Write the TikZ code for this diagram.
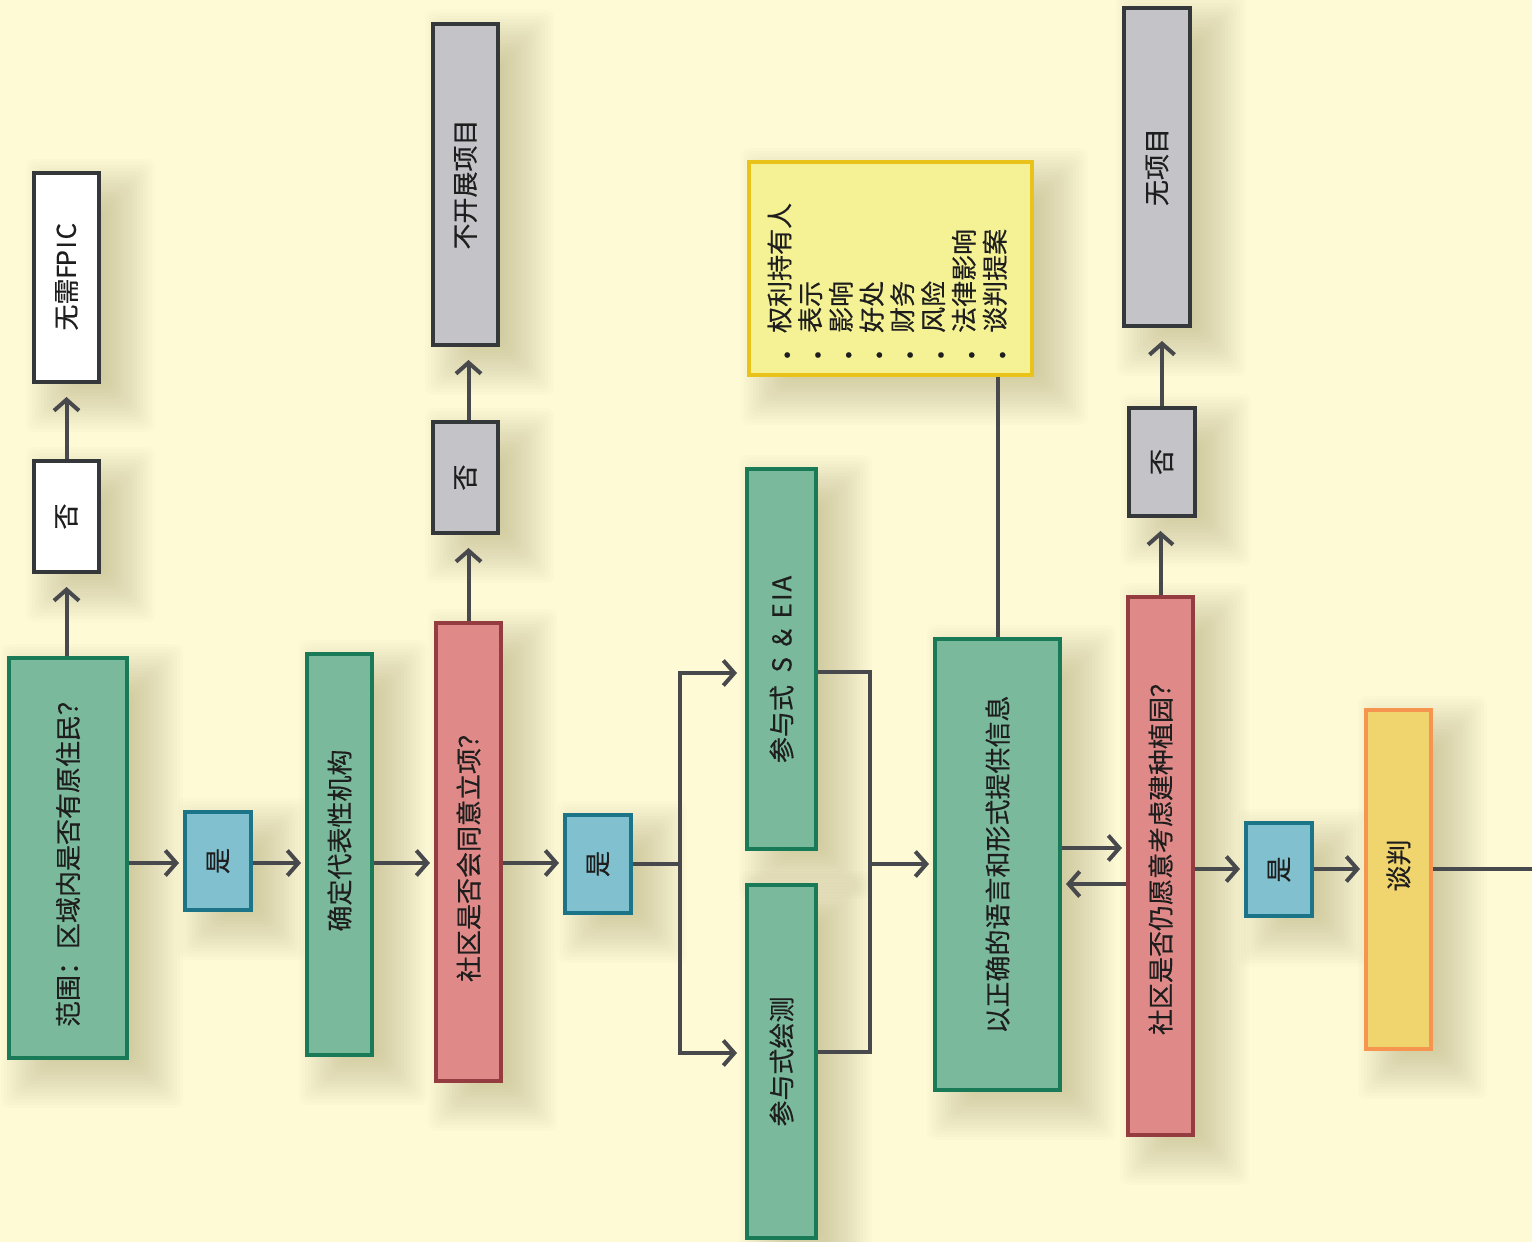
\documentclass[tikz,border=0pt]{standalone}
\usepackage{fontspec}
\usepackage{graphicx}
\setmainfont{Noto Sans CJK SC}[FakeBold=0.3]
\usetikzlibrary{arrows.meta,backgrounds,calc}
\definecolor{bgc}{RGB}{254,250,214}
\definecolor{gfill}{RGB}{122,185,155}
\definecolor{gline}{RGB}{24,122,86}
\definecolor{bfill}{RGB}{128,192,207}
\definecolor{bline}{RGB}{27,116,136}
\definecolor{rfill}{RGB}{223,138,136}
\definecolor{rline}{RGB}{148,60,64}
\definecolor{kfill}{RGB}{195,195,200}
\definecolor{kline}{RGB}{53,56,59}
\definecolor{nfill}{RGB}{245,242,149}
\definecolor{nline}{RGB}{233,194,26}
\definecolor{ofill}{RGB}{240,212,110}
\definecolor{oline}{RGB}{246,149,79}
\definecolor{linec}{RGB}{72,73,77}
\definecolor{txt}{RGB}{30,30,30}
\definecolor{shc}{RGB}{60,50,0}
\newcommand{\hw}[1]{\makebox[0.52em]{#1}}
\newcommand{\rt}[1]{\rotatebox{90}{#1}}
\newcommand{\nd}{\makebox[1.2em][l]{\makebox[0.7em]{\raisebox{-0.3em}{·}}}}
\newcommand{\softshadow}[1]{%
  \foreach \E in {30,27,...,-21}{%
    \fill[shc, opacity=0.012, rounded corners=8pt]
      ([shift={(24-\E,18-\E)}]#1.north west) rectangle ([shift={(24+\E,18+\E)}]#1.south east);
  }}
\begin{document}
\begin{tikzpicture}[x=1pt,y=-1pt,
  font=\fontsize{26pt}{29.5pt}\selectfont,
  box/.style={rectangle, line width=4pt, inner sep=0pt, text=txt},
  greenbox/.style={box, fill=gfill, draw=gline},
  bluebox/.style={box, fill=bfill, draw=bline},
  redbox/.style={box, fill=rfill, draw=rline},
  graybox/.style={box, fill=kfill, draw=kline},
  whitebox/.style={box, fill=white, draw=kline},
  notebox/.style={box, fill=nfill, draw=nline},
  negbox/.style={box, fill=ofill, draw=oline},
  ln/.style={draw=linec, line width=4pt},
  harr/.style={ln, -{Straight Barb[length=11pt,width=25pt]}, shorten >=4pt},
  varr/.style={ln, -{Straight Barb[length=11pt,width=25pt]}, shorten >=13pt}]
\begin{pgfonlayer}{background}
\fill[bgc] (0,0) rectangle (1532,1242);
\end{pgfonlayer}
\useasboundingbox (0,0) rectangle (1532,1242);

% nodes
\node[greenbox, minimum width=118pt, minimum height=400pt] (scope) at (68,858) {\rt{范围：区域内是否有原住民？}};
\node[whitebox, minimum width=65pt, minimum height=111pt] (no1) at (66.5,516.5) {\rt{否}};
\node[whitebox, minimum width=65pt, minimum height=209pt] (nofpic) at (66.5,277.5) {\rt{无需\hw{F}\hw{P}\hw{I}\hw{C}}};
\node[bluebox, minimum width=66pt, minimum height=98pt] (yes1) at (218,861) {\rt{是}};
\node[greenbox, minimum width=65pt, minimum height=401pt] (rep) at (339.5,854.5) {\rt{\hspace{28pt}确定代表性机构}};
\node[redbox, minimum width=65pt, minimum height=458pt] (agree) at (468.5,852) {\rt{社区是否会同意立项？}};
\node[graybox, minimum width=65pt, minimum height=111pt] (no2) at (465.5,477.5) {\rt{否}};
\node[graybox, minimum width=65pt, minimum height=321pt] (noproj1) at (465.5,184.5) {\rt{不开展项目}};
\node[bluebox, minimum width=66pt, minimum height=98pt] (yes2) at (598,864) {\rt{是}};
\node[greenbox, minimum width=69pt, minimum height=380pt] (sia) at (781.5,659) {\rt{参与式\hw{}\hw{S}\hw{}\hw{\&}\hw{}\hw{E}\hw{I}\hw{A}\hspace{22pt}}};
\node[greenbox, minimum width=69pt, minimum height=353pt] (map) at (781.5,1061.5) {\rt{参与式绘测}};
\node[notebox, minimum width=283pt, minimum height=213pt] (notes) at (890.5,268.5) {\rt{\begin{tabular}{@{}l@{\hspace{30pt}}}
\nd 权利持有人\\
\nd 表示\\
\nd 影响\\
\nd 好处\\
\nd 财务\\
\nd 风险\\
\nd 法律影响\\
\nd 谈判提案
\end{tabular}}};
\node[greenbox, minimum width=125pt, minimum height=451pt] (info) at (997.5,864.5) {\rt{以正确的语言和形式提供信息}};
\node[redbox, minimum width=65pt, minimum height=538pt] (still) at (1160.5,866) {\rt{\hspace{26pt}社区是否仍愿意考虑建种植园？}};
\node[graybox, minimum width=66pt, minimum height=108pt] (no3) at (1162,462) {\rt{否}};
\node[graybox, minimum width=66pt, minimum height=318pt] (noproj2) at (1157,167) {\rt{无项目}};
\node[bluebox, minimum width=66pt, minimum height=93pt] (yes3) at (1279,869.5) {\rt{是}};
\node[negbox, minimum width=65pt, minimum height=339pt] (neg) at (1398.5,879.5) {\rt{\hspace{28pt}谈判}};

% soft shadows behind the boxes
\begin{pgfonlayer}{background}
\foreach \n in {scope,no1,nofpic,yes1,rep,agree,no2,noproj1,yes2,sia,map,notes,info,still,no3,noproj2,yes3,neg}{\softshadow{\n}}
\end{pgfonlayer}

% helper coordinates
\coordinate (m1) at (0,863);
\coordinate (j1) at (680,864);
\coordinate (ja) at (680,673);
\coordinate (jb) at (680,1053);
\coordinate (j2) at (870,864);
\coordinate (ka) at (870,672);
\coordinate (kb) at (870,1052);
\coordinate (d1) at (0,848);
\coordinate (d2) at (0,884);
\coordinate (m3) at (0,869);
\coordinate (endR) at (1532,869);

% connectors
\draw[varr] (no1.south |- scope.north) -- (no1.south);
\draw[varr] (no1.north) -- (nofpic.south);
\draw[harr] (scope.east |- m1) -- (yes1.west |- m1);
\draw[harr] (yes1.east |- m1) -- (rep.west |- m1);
\draw[harr] (rep.east |- m1) -- (agree.west |- m1);
\draw[varr] (agree.north) -- (agree.north |- no2.south);
\draw[varr] (agree.north |- no2.north) -- (agree.north |- noproj1.south);
\draw[harr] (agree.east |- m1) -- (yes2.west |- m1);
\draw[ln] (yes2.east |- j1) -- (j1);
\draw[ln, {Straight Barb[length=11pt,width=25pt]}-{Straight Barb[length=11pt,width=25pt]}, shorten <=8pt, shorten >=8pt]
  (sia.west |- ja) -- (ja) -- (jb) -- (map.west |- jb);
\draw[ln] (sia.east |- ka) -- (ka) -- (kb) -- (map.east |- kb);
\draw[harr] (j2) -- (info.west |- j2);
\draw[ln] (info.north |- notes.south) -- (info.north);
\draw[harr] (info.east |- d1) -- (still.west |- d1);
\draw[harr] (still.west |- d2) -- (info.east |- d2);
\draw[varr] (still.north) -- (still.north |- no3.south);
\draw[varr] (no3.north) -- (no3.north |- noproj2.south);
\draw[harr] (still.east |- m3) -- (yes3.west |- m3);
\draw[harr] (yes3.east |- m3) -- (neg.west |- m3);
\draw[ln] (neg.east |- endR) -- (endR);
\end{tikzpicture}
\end{document}
